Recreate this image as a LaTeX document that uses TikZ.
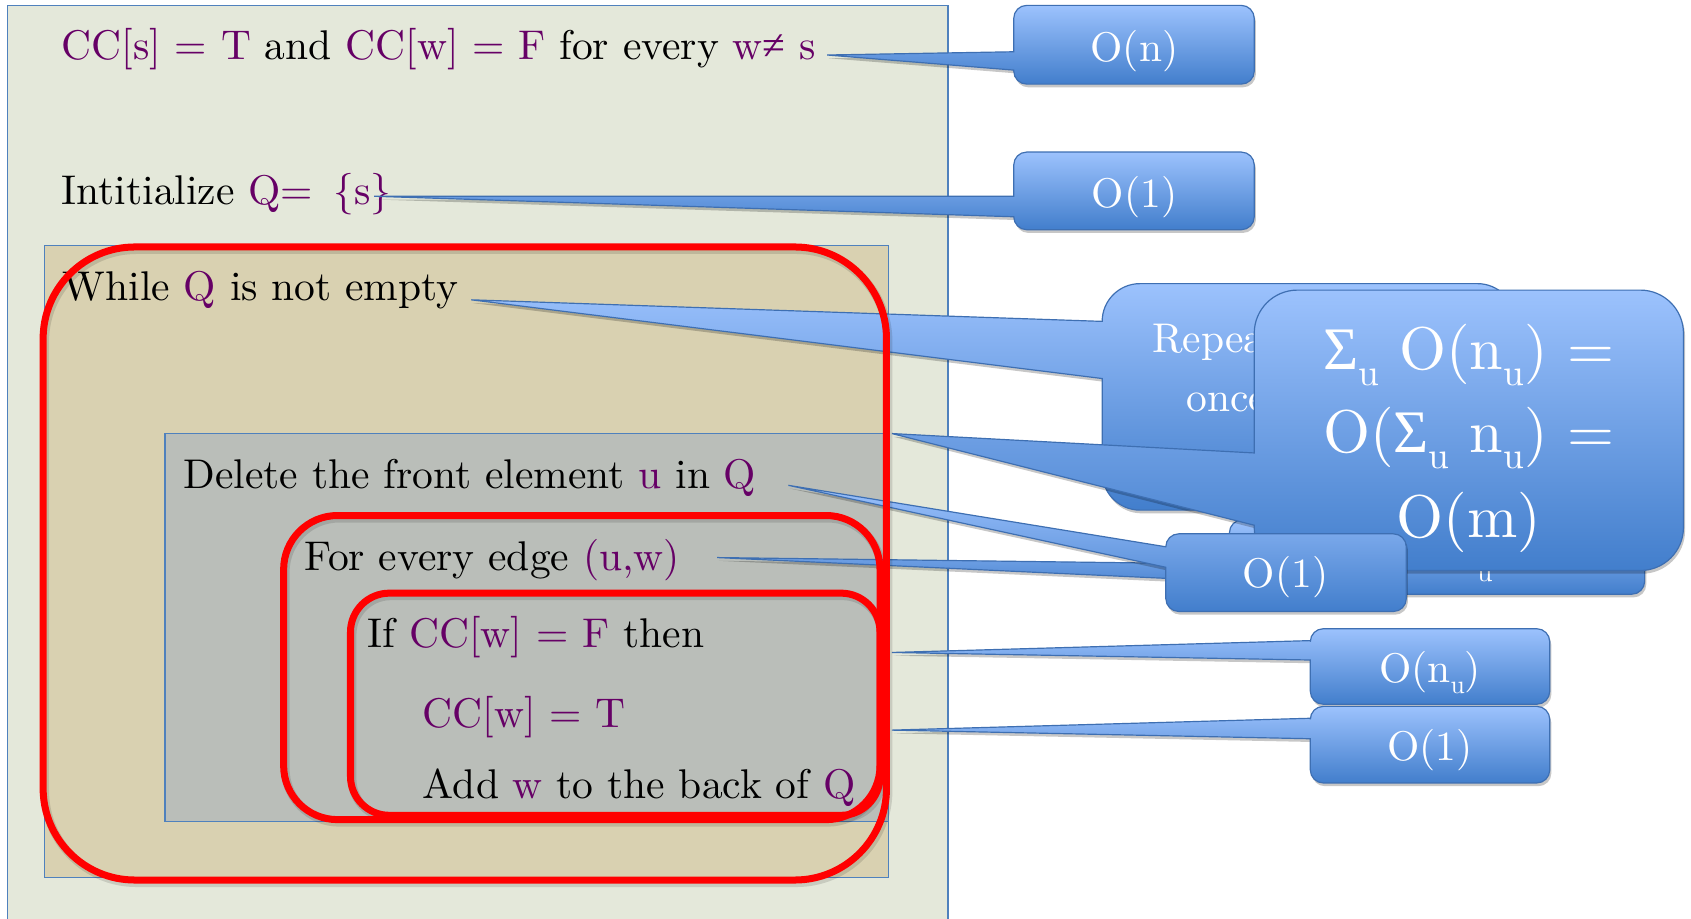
\documentclass[tikz,border=0pt]{standalone}
\usepackage{fontspec}
\setmainfont{lmroman10-regular}[Extension=.otf]
\newfontfamily\symfont{Liberation Serif}
\usetikzlibrary{shadows}
\definecolor{gbg}{RGB}{228,232,218}
\definecolor{tanbg}{RGB}{217,209,177}
\definecolor{graybg}{RGB}{186,190,185}
\definecolor{bbord}{RGB}{79,129,189}
\definecolor{pur}{RGB}{102,0,102}
\definecolor{ctop}{RGB}{156,194,253}
\definecolor{cbot}{RGB}{66,126,204}
\definecolor{cbord}{RGB}{62,111,178}
\definecolor{redline}{RGB}{255,0,0}
\newcommand\mainsize{\fontsize{38.5}{46}\selectfont}
\newcommand\bigsize{\fontsize{56}{66}\selectfont}
\newcommand\usub{\raisebox{-0.26em}{\scalebox{0.62}{u}}}
\newcommand\Sig{{\symfont Σ}}
% callout: x1 y1 x2 y2 r ya yb tipx tipy (shown pixel coords, y downward)
\newcommand\callout[9]{%
  \shadedraw[calloutshape] ({#1},{-(#2+#5)}) arc[start angle=180,end angle=90,radius=#5]
    -- ({#3-#5},{-#2}) arc[start angle=90,end angle=0,radius=#5]
    -- ({#3},{-(#4-#5)}) arc[start angle=0,end angle=-90,radius=#5]
    -- ({#1+#5},{-#4}) arc[start angle=-90,end angle=-180,radius=#5]
    -- ({#1},{-#7}) -- ({#8},{-#9}) -- ({#1},{-#6}) -- cycle;}
\tikzset{
  panel/.style={draw=bbord, line width=1pt},
  txt/.style={anchor=base west, inner sep=0pt, font=\mainsize},
  ctxt/.style={anchor=base, inner sep=0pt, font=\mainsize, text=white},
  cbig/.style={anchor=base, inner sep=0pt, font=\bigsize, text=white},
  calloutshape/.style={top color=ctop, bottom color=cbot, draw=cbord, line width=1.1pt,
    drop shadow={shadow xshift=1.5pt, shadow yshift=-3pt, opacity=0.22, fill=black}},
  redbox/.style={draw=redline, line width=6.5pt},
  redshadow/.style={draw=black, opacity=0.12, line width=8pt}
}
\begin{document}
\begin{tikzpicture}[x=1pt,y=1pt]
\useasboundingbox (0,0) rectangle (1568,-852);
\clip (0,0) rectangle (1568,-852);
\fill[white] (0,0) rectangle (1568,-852);
% panels
\filldraw[panel, fill=gbg] (7,-5) rectangle (879,-870);
\filldraw[panel, fill=tanbg] (41,-228) rectangle (824,-814);
\filldraw[panel, fill=graybg] (153,-402) rectangle (824,-762);
% text
\node[txt] (l1) at (57,-55.6) {\textcolor{pur}{CC[s] = T} and \textcolor{pur}{CC[w] = F} for every \textcolor{pur}{w{\symfont ≠} s}};
\node[txt] (l2) at (57,-190) {Intitialize \textcolor{pur}{Q= \,\{s\}}};
\node[txt] (l3) at (58,-279) {While \textcolor{pur}{Q} is not empty};
\node[txt] (l4) at (170,-452.6) {Delete the front element \textcolor{pur}{u} in \textcolor{pur}{Q}};
\node[txt] (l5) at (282,-529) {For every edge \textcolor{pur}{(u,w)}};
\node[txt] (l6) at (341,-600) {If \textcolor{pur}{CC[w] = F} then};
\node[txt] (l7) at (392,-675) {\textcolor{pur}{CC[w] = T}};
\node[txt] (l8) at (392,-740) {Add \textcolor{pur}{w} to the back of \textcolor{pur}{Q}};
% callouts
\callout{940}{5}{1163}{78}{12}{48}{65}{767}{51}
\node[ctxt] (c1) at (1052,-57) {O(n)};
\callout{940}{141}{1163}{213}{12}{182}{201}{347}{182}
\node[ctxt] (c2) at (1052,-192) {O(1)};
\callout{1022}{263}{1405}{473}{35}{298}{351}{437}{278}
\node[txt, text=white] (c3a) at (1068,-327) {Repeated};
\node[txt, text=white] (c3b) at (1100,-382) {once};
\callout{1140}{482}{1525}{551}{12}{523}{539}{665}{517}
\node[anchor=base, inner sep=0pt, font=\fontsize{26}{30}\selectfont, text=white] (hu) at (1377,-539) {u};
\callout{1163}{269}{1561}{529}{40}{420}{487}{827}{402}
\node[cbig] (s1) at (1362,-343) {\Sig\usub{} O(n\usub) =};
\node[cbig] (s2) at (1362,-420) {O(\Sig\usub{} n\usub) =};
\node[cbig] (s3) at (1362,-498) {O(m)};
\callout{1081}{495}{1304}{567}{12}{507}{526}{731}{450}
\node[ctxt] (c5) at (1192,-545) {O(1)};
\callout{1215}{583}{1437}{653}{12}{594}{612}{827}{605}
\node[ctxt] (c6) at (1326,-633) {O(n\usub)};
\callout{1215}{655}{1437}{726}{12}{666}{685}{827}{677}
\node[ctxt] (c7) at (1326,-705) {O(1)};
% red frames
\begin{scope}[shift={(1.5,-2.5)}]
\draw[redshadow, rounded corners=85pt] (40,-229) rectangle (822,-816);
\draw[redshadow, rounded corners=50pt] (263,-478) rectangle (816,-760);
\draw[redshadow, rounded corners=36pt] (325,-550) rectangle (816,-756);
\end{scope}
\draw[redbox, rounded corners=85pt] (40,-229) rectangle (822,-816);
\draw[redbox, rounded corners=50pt] (263,-478) rectangle (816,-760);
\draw[redbox, rounded corners=36pt] (325,-550) rectangle (816,-756);
\end{tikzpicture}
\end{document}
